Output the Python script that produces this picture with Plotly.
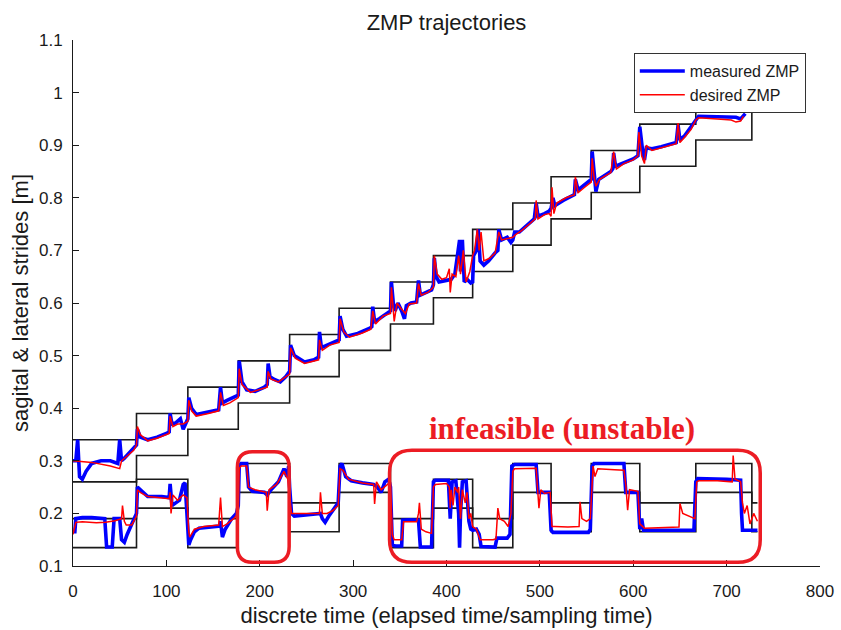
import plotly.graph_objects as go

# ---------------- data ----------------
STEP_T = [0, 68, 123, 177, 232, 285, 340, 386, 428, 471, 512, 555, 607, 667, 727]

# sagittal support band (upper / lower boundary per step)
SAG_TOP = [0.34, 0.39, 0.44, 0.49, 0.54, 0.59, 0.64, 0.69, 0.74, 0.79, 0.84, 0.89, 0.94, 0.99, 0.99]
SAG_BOT = [0.26, 0.31, 0.36, 0.41, 0.46, 0.51, 0.56, 0.61, 0.66, 0.71, 0.76, 0.81, 0.86, 0.91, 0.99]

# lateral support band
LAT_T = [0, 68, 123, 177, 232, 285, 340, 386, 428, 471, 512, 555, 607, 667, 727, 733]
LAT_TOP = [0.19, 0.265, 0.19, 0.295, 0.22, 0.295, 0.19, 0.265, 0.19, 0.295, 0.22, 0.295, 0.22, 0.295, 0.22, 0.22]
LAT_BOT = [0.135, 0.21, 0.135, 0.24, 0.165, 0.24, 0.135, 0.21, 0.135, 0.24, 0.165, 0.24, 0.165, 0.24, 0.165, 0.165]

# measured ZMP, sagittal
MEAS_SAG_T = [0, 3, 5, 7, 10, 14, 20, 30, 40, 48, 50, 52, 55, 60, 65, 68,
              69, 72, 80, 90, 100, 103, 104, 106, 110, 115, 118, 121, 123,
              124, 127, 132, 145, 156, 158, 160, 165, 172, 177,
              178, 181, 186, 195, 205, 208, 209, 211, 215, 222, 228, 232,
              233, 237, 248, 258, 263, 264, 266, 272, 280, 285,
              286, 289, 293, 305, 318, 320, 321, 323, 328, 335, 340,
              341, 343, 345, 348, 352, 355, 357, 362, 368, 370, 372, 378, 384, 386,
              387, 389, 392, 400, 405, 409, 412, 414, 415, 417, 419, 422, 426, 428,
              429, 432, 434, 436, 440, 445, 452, 455, 456, 459, 465, 469, 471,
              473, 478, 485, 494, 496, 498, 505, 510, 512,
              514, 516, 525, 537, 538, 541, 548, 553, 555,
              556, 558, 560, 563, 570, 576, 578, 579, 581, 590, 600, 605, 607, 610, 612, 614,
              620, 630, 640, 646, 648, 650, 655, 660, 667,
              670, 690, 710, 715, 718, 720]
MEAS_SAG_V = [0.30, 0.30, 0.34, 0.27, 0.265, 0.28, 0.295, 0.30, 0.30, 0.295, 0.34, 0.30, 0.305, 0.315, 0.325, 0.33,
              0.36, 0.345, 0.34, 0.345, 0.352, 0.355, 0.39, 0.37, 0.372, 0.38, 0.36, 0.37, 0.38,
              0.42, 0.40, 0.388, 0.392, 0.397, 0.44, 0.41, 0.415, 0.42, 0.425,
              0.49, 0.45, 0.435, 0.432, 0.44, 0.445, 0.485, 0.46, 0.455, 0.45, 0.46, 0.47,
              0.52, 0.50, 0.488, 0.492, 0.497, 0.545, 0.515, 0.52, 0.525, 0.53,
              0.575, 0.55, 0.537, 0.542, 0.552, 0.555, 0.593, 0.565, 0.57, 0.58, 0.585,
              0.64, 0.60, 0.585, 0.60, 0.585, 0.57, 0.595, 0.60, 0.602, 0.643, 0.615, 0.62, 0.625, 0.635,
              0.685, 0.65, 0.64, 0.643, 0.645, 0.655, 0.70, 0.72, 0.66, 0.72, 0.64, 0.645, 0.638, 0.64,
              0.69, 0.70, 0.74, 0.68, 0.672, 0.68, 0.695, 0.70, 0.74, 0.72, 0.725, 0.715, 0.72,
              0.735, 0.735, 0.745, 0.76, 0.79, 0.765, 0.77, 0.775, 0.78,
              0.80, 0.785, 0.795, 0.806, 0.835, 0.815, 0.825, 0.83, 0.835,
              0.888, 0.85, 0.812, 0.835, 0.843, 0.85, 0.855, 0.885, 0.86, 0.866, 0.874, 0.88, 0.935, 0.89, 0.872, 0.895,
              0.893, 0.897, 0.902, 0.905, 0.938, 0.91, 0.918, 0.93, 0.945,
              0.955, 0.954, 0.953, 0.95, 0.955, 0.96]

# desired ZMP, sagittal
DES_SAG_T = [0, 20, 40, 50, 52, 58, 65, 68,
             69, 72, 80, 90, 100, 103, 104, 107, 112, 118, 123,
             124, 127, 132, 145, 156, 158, 161, 168, 177,
             178, 181, 190, 200, 208, 209, 212, 220, 232,
             233, 238, 248, 263, 264, 267, 275, 285,
             286, 290, 296, 310, 319, 321, 324, 332, 340,
             341, 344, 347, 351, 356, 360, 368, 370, 373, 380, 386,
             387, 390, 395, 400, 403, 404, 406, 410, 413, 415, 418, 421, 425, 428,
             430, 433, 435, 437, 440, 446, 452, 456, 459, 465, 471,
             474, 480, 490, 495, 496, 498, 505, 510, 512,
             513, 515, 518, 528, 537, 538, 541, 548, 555,
             556, 558, 560, 564, 576, 579, 582, 590, 600, 605, 606, 609, 612, 614,
             620, 630, 646, 648, 650, 655, 662, 667,
             670, 690, 705, 710, 715, 718]
DES_SAG_V = [0.30, 0.297, 0.29, 0.285, 0.30, 0.31, 0.32, 0.33,
             0.365, 0.35, 0.338, 0.343, 0.35, 0.352, 0.385, 0.365, 0.37, 0.37, 0.375,
             0.415, 0.395, 0.385, 0.39, 0.395, 0.43, 0.405, 0.41, 0.42,
             0.475, 0.445, 0.43, 0.435, 0.44, 0.47, 0.455, 0.45, 0.465,
             0.515, 0.495, 0.485, 0.492, 0.53, 0.51, 0.52, 0.525,
             0.57, 0.545, 0.535, 0.543, 0.55, 0.585, 0.56, 0.575, 0.58,
             0.63, 0.565, 0.60, 0.59, 0.58, 0.598, 0.60, 0.637, 0.615, 0.62, 0.63,
             0.69, 0.655, 0.645, 0.648, 0.665, 0.62, 0.655, 0.65, 0.69, 0.655, 0.70, 0.64, 0.66, 0.69,
             0.70, 0.74, 0.70, 0.735, 0.68, 0.685, 0.695, 0.735, 0.72, 0.722, 0.725,
             0.73, 0.737, 0.752, 0.76, 0.795, 0.76, 0.768, 0.77, 0.765,
             0.82, 0.77, 0.79, 0.80, 0.806, 0.84, 0.81, 0.82, 0.83,
             0.875, 0.84, 0.822, 0.835, 0.848, 0.888, 0.855, 0.865, 0.872, 0.88, 0.925, 0.88, 0.865, 0.90,
             0.89, 0.895, 0.903, 0.942, 0.905, 0.915, 0.93, 0.948,
             0.952, 0.95, 0.948, 0.944, 0.946, 0.955]

# measured ZMP, lateral
MEAS_LAT_T = [0, 2, 3, 10, 20, 34, 36, 42, 44, 50, 52, 55, 58, 62, 66, 68,
              69, 72, 80, 95, 103, 104, 106, 110, 114, 118, 120, 122,
              124, 126, 130, 135, 150, 157, 158, 160, 163, 170, 175, 177,
              178, 180, 186, 188, 192, 205, 208, 212, 220, 226, 229, 231, 232,
              234, 237, 250, 262, 265, 267, 270, 274, 280, 284,
              286, 288, 292, 298, 310, 322, 326, 330, 334, 338, 340,
              342, 345, 352, 353, 360, 370, 372, 384,
              386, 388, 402, 404, 406, 410, 413, 414, 415, 417, 421, 424, 426, 428,
              432, 435, 437, 452, 454, 465, 468,
              470, 473, 496, 498, 510,
              512, 514, 552, 554,
              556, 558, 590, 592, 605,
              607, 609, 611, 665,
              667, 669, 700, 715, 716, 717, 733]
MEAS_LAT_V = [0.165, 0.165, 0.19, 0.192, 0.192, 0.19, 0.136, 0.136, 0.19, 0.19, 0.15, 0.145, 0.16, 0.175, 0.19, 0.20,
              0.25, 0.245, 0.232, 0.232, 0.23, 0.256, 0.215, 0.22, 0.225, 0.255, 0.258, 0.20,
              0.14, 0.15, 0.165, 0.172, 0.175, 0.176, 0.185, 0.155, 0.17, 0.19, 0.20, 0.215,
              0.29, 0.295, 0.295, 0.25, 0.242, 0.24, 0.235, 0.245, 0.26, 0.285, 0.27, 0.29, 0.25,
              0.20, 0.195, 0.197, 0.198, 0.20, 0.19, 0.183, 0.195, 0.21, 0.22,
              0.29, 0.295, 0.27, 0.262, 0.258, 0.255, 0.25, 0.24, 0.26, 0.265, 0.25,
              0.14, 0.138, 0.138, 0.187, 0.188, 0.187, 0.136, 0.136,
              0.26, 0.263, 0.263, 0.19, 0.26, 0.262, 0.20, 0.135, 0.20, 0.26, 0.262, 0.185, 0.17, 0.168,
              0.17, 0.16, 0.137, 0.136, 0.153, 0.153, 0.16,
              0.29, 0.293, 0.293, 0.24, 0.24,
              0.168, 0.164, 0.164, 0.17,
              0.29, 0.295, 0.295, 0.24, 0.24,
              0.17, 0.19, 0.168, 0.168,
              0.26, 0.266, 0.265, 0.263, 0.20, 0.168, 0.168]

# desired ZMP, lateral
DES_LAT_T = [0, 3, 10, 25, 35, 45, 52, 53, 55, 57, 63, 68,
             69, 72, 80, 95, 103, 104, 105, 107, 112, 118, 122,
             124, 125, 130, 140, 156, 158, 160, 165, 172, 177,
             178, 180, 186, 188, 195, 205, 207, 208, 210, 218, 226, 230, 232,
             234, 237, 250, 264, 265, 267, 272, 278, 284,
             286, 289, 295, 310, 322, 323, 325, 330, 336, 340,
             342, 344, 352, 354, 368, 370, 371, 373, 378, 384,
             386, 388, 400, 403, 404, 405, 407, 409, 412, 413, 415, 417, 420, 422, 424, 426, 428,
             432, 436, 450, 453, 455, 457, 462, 466, 469,
             471, 473, 496, 498, 499, 501, 505, 511,
             513, 516, 530, 542, 543, 545, 550, 554,
             556, 557, 559, 562, 580, 590, 592, 594, 596, 605,
             607, 610, 612, 649, 650, 653, 660, 666,
             668, 670, 690, 706, 707, 709, 715, 717, 719, 722, 725, 729, 733]
DES_LAT_V = [0.16, 0.183, 0.184, 0.182, 0.183, 0.186, 0.19, 0.215, 0.185, 0.178, 0.178, 0.195,
             0.245, 0.24, 0.232, 0.23, 0.228, 0.24, 0.20, 0.235, 0.225, 0.235, 0.23,
             0.165, 0.155, 0.17, 0.175, 0.178, 0.23, 0.175, 0.18, 0.19, 0.20,
             0.285, 0.29, 0.29, 0.25, 0.245, 0.242, 0.24, 0.205, 0.245, 0.255, 0.28, 0.265, 0.23,
             0.20, 0.20, 0.20, 0.20, 0.24, 0.20, 0.20, 0.205, 0.215,
             0.285, 0.282, 0.265, 0.258, 0.255, 0.218, 0.26, 0.245, 0.255, 0.26,
             0.16, 0.15, 0.15, 0.184, 0.184, 0.20, 0.22, 0.17, 0.165, 0.162,
             0.25, 0.255, 0.257, 0.25, 0.21, 0.245, 0.215, 0.25, 0.24, 0.25, 0.19, 0.245, 0.22, 0.24, 0.19, 0.20, 0.175,
             0.17, 0.15, 0.15, 0.152, 0.21, 0.19, 0.185, 0.175, 0.20,
             0.28, 0.285, 0.286, 0.245, 0.21, 0.245, 0.238, 0.24,
             0.175, 0.175, 0.174, 0.175, 0.222, 0.19, 0.185, 0.19,
             0.28, 0.29, 0.27, 0.285, 0.283, 0.282, 0.255, 0.206, 0.245, 0.242,
             0.18, 0.175, 0.172, 0.174, 0.219, 0.20, 0.195, 0.19,
             0.26, 0.262, 0.262, 0.26, 0.31, 0.265, 0.26, 0.22, 0.20, 0.215, 0.18, 0.20, 0.185]

X_TICKS = [0, 100, 200, 300, 400, 500, 600, 700, 800]
Y_TICKS = [0.1, 0.2, 0.3, 0.4, 0.5, 0.6, 0.7, 0.8, 0.9, 1.0, 1.1]
Y_TICK_TEXT = ["0.1", "0.2", "0.3", "0.4", "0.5", "0.6", "0.7", "0.8", "0.9", "1", "1.1"]

# highlighted regions: (t0, t1, v0, v1)
BOX_SMALL = (176, 231.5, 0.107, 0.317)
BOX_LARGE = (339, 736, 0.107, 0.320)
NOTE_TEXT = "infeasible (unstable)"
NOTE_POS = (524, 0.362)

# ---------------- figure ----------------
BLACK = "#1a1a1a"
BLUE = "#0000ff"
RED = "#ff0000"
MARK_RED = "#ec1c24"

fig = go.Figure()

for t, v in [(STEP_T, SAG_TOP), (STEP_T, SAG_BOT), (LAT_T, LAT_TOP), (LAT_T, LAT_BOT)]:
    fig.add_trace(go.Scatter(x=t, y=v, mode="lines", line=dict(color=BLACK, width=1.6, shape="hv"),
                             showlegend=False, hoverinfo="skip"))

fig.add_trace(go.Scatter(x=MEAS_SAG_T, y=MEAS_SAG_V, mode="lines", name="measured ZMP",
                         line=dict(color=BLUE, width=3.6), legendgroup="m"))
fig.add_trace(go.Scatter(x=MEAS_LAT_T, y=MEAS_LAT_V, mode="lines", name="measured ZMP",
                         line=dict(color=BLUE, width=3.6), legendgroup="m", showlegend=False))
fig.add_trace(go.Scatter(x=DES_SAG_T, y=DES_SAG_V, mode="lines", name="desired ZMP",
                         line=dict(color=RED, width=1.5), legendgroup="d"))
fig.add_trace(go.Scatter(x=DES_LAT_T, y=DES_LAT_V, mode="lines", name="desired ZMP",
                         line=dict(color=RED, width=1.5), legendgroup="d", showlegend=False))


def rounded_rect(box, rx, ry):
    x0, x1, y0, y1 = box
    return (f"M {x0+rx},{y0} L {x1-rx},{y0} Q {x1},{y0} {x1},{y0+ry} "
            f"L {x1},{y1-ry} Q {x1},{y1} {x1-rx},{y1} L {x0+rx},{y1} "
            f"Q {x0},{y1} {x0},{y1-ry} L {x0},{y0+ry} Q {x0},{y0} {x0+rx},{y0} Z")


fig.add_shape(type="path", path=rounded_rect(BOX_SMALL, 16, 0.03), xref="x", yref="y",
              line=dict(color=MARK_RED, width=3.5))
fig.add_shape(type="path", path=rounded_rect(BOX_LARGE, 24, 0.043), xref="x", yref="y",
              line=dict(color=MARK_RED, width=3.5))

fig.add_annotation(x=NOTE_POS[0], y=NOTE_POS[1], xref="x", yref="y", text=f"<b>{NOTE_TEXT}</b>",
                   showarrow=False, font=dict(family="Liberation Serif", size=31, color=MARK_RED))

axis_common = dict(showline=True, linecolor=BLACK, linewidth=1, mirror=False, ticks="inside",
                   ticklen=6, tickcolor=BLACK, showgrid=False, zeroline=False, automargin=False,
                   tickfont=dict(family="Liberation Sans", size=17, color=BLACK))

fig.update_xaxes(range=[0, 800], tickvals=X_TICKS, **axis_common, ticklabelstandoff=10,
                 title=dict(text="discrete time (elapsed time/sampling time)",
                            font=dict(family="Liberation Sans", size=22, color=BLACK), standoff=7))
fig.update_yaxes(range=[0.1, 1.1], tickvals=Y_TICKS, ticktext=Y_TICK_TEXT, **axis_common,
                 ticklabelstandoff=6,
                 title=dict(text="sagital & lateral strides [m]",
                            font=dict(family="Liberation Sans", size=22, color=BLACK), standoff=4))

fig.update_layout(
    width=841, height=630,
    margin=dict(l=73, r=21, t=40, b=64),
    paper_bgcolor="white", plot_bgcolor="white",
    title=dict(text="ZMP trajectories", x=0.5, xref="paper", y=1 - 22 / 630, yref="container",
               yanchor="middle", font=dict(family="Liberation Sans", size=22, color=BLACK)),
    legend=dict(x=0.981, y=0.975, xanchor="right", yanchor="top", bgcolor="white",
                bordercolor="#333333", borderwidth=1,
                font=dict(family="Liberation Sans", size=16, color=BLACK),
                tracegroupgap=0, itemwidth=45),
    showlegend=True,
)

fig.write_html("out.html", config={"displayModeBar": False},
               post_script="document.body.style.margin='0';document.body.style.overflow='hidden';")
